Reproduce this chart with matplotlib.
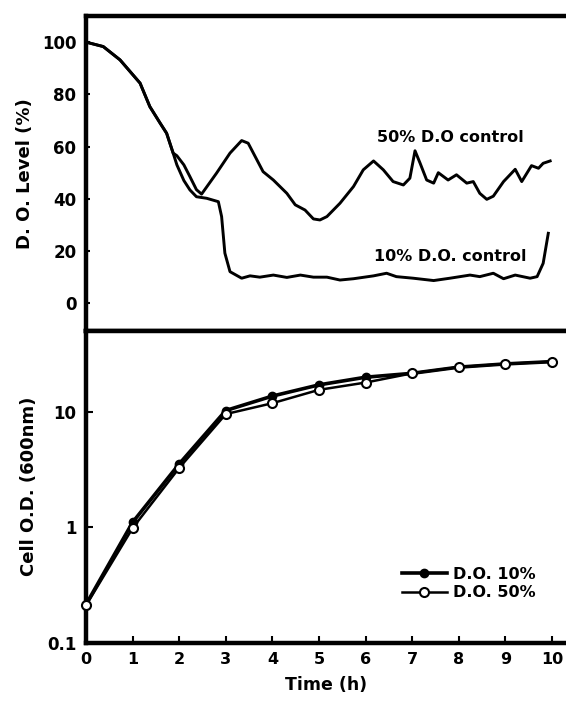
import matplotlib
matplotlib.use("Agg")
import matplotlib.pyplot as plt
from matplotlib.ticker import FixedLocator, FixedFormatter, NullLocator, NullFormatter

plt.rcParams['font.family'] = ['DejaVu Sans']
plt.rcParams['font.weight'] = 'bold'

# ---- Top panel: dissolved oxygen traces ----
t_common = [0.0, 0.37, 0.73, 1.16, 1.37, 1.59, 1.73, 1.87]
do_common = [100.0, 98.3, 93.2, 84.3, 75.3, 69.0, 65.1, 57.5]

t50 = t_common + [1.95, 2.10, 2.23, 2.37, 2.48, 2.80, 3.09, 3.34, 3.48, 3.80, 4.02, 4.31,
                  4.49, 4.70, 4.88, 5.02, 5.17, 5.45, 5.74, 5.95, 6.17, 6.38, 6.59,
                  6.81, 6.95, 7.06, 7.17, 7.31, 7.46, 7.56, 7.77, 7.95, 8.17, 8.31,
                  8.45, 8.60, 8.74, 8.96, 9.21, 9.35, 9.56, 9.71, 9.81, 9.96]
do50 = do_common + [56.5, 53.0, 48.5, 43.5, 41.8, 49.8, 57.5, 62.3, 61.3, 50.4, 47.2, 42.1,
                    37.7, 35.7, 32.3, 31.9, 33.2, 38.3, 44.7, 51.1, 54.5, 51.1, 46.6,
                    45.3, 47.9, 58.4, 53.6, 47.2, 46.0, 50.0, 47.2, 49.2, 46.0, 46.6,
                    42.1, 39.8, 41.0, 46.6, 51.3, 46.6, 52.7, 51.7, 53.6, 54.5]

t10 = t_common + [1.95, 2.10, 2.23, 2.37, 2.59, 2.84, 2.91, 2.98, 3.09, 3.34, 3.52, 3.73,
                  4.02, 4.31, 4.60, 4.88, 5.17, 5.45, 5.74, 6.17, 6.45, 6.66, 7.02,
                  7.46, 7.81, 8.24, 8.45, 8.74, 8.96, 9.21, 9.53, 9.68, 9.81, 9.92]
do10 = do_common + [53.0, 47.0, 43.4, 40.8, 40.2, 38.9, 33.2, 19.2, 12.1, 9.6, 10.5, 10.0,
                    10.8, 9.9, 10.8, 10.0, 10.0, 8.9, 9.4, 10.5, 11.5, 10.2, 9.6,
                    8.7, 9.6, 10.8, 10.2, 11.5, 9.4, 10.8, 9.6, 10.2, 15.3, 26.8]

top_yticks = [0, 20, 40, 60, 80, 100]

# ---- Bottom panel: cell growth ----
hours = [0, 1, 2, 3, 4, 5, 6, 7, 8, 9, 10]
od_do10 = [0.214, 1.10, 3.52, 10.2, 13.6, 17.0, 19.8, 21.4, 24.2, 25.8, 27.0]
od_do50 = [0.21, 0.98, 3.25, 9.5, 11.8, 15.4, 17.8, 21.4, 24.2, 25.8, 27.0]
bottom_yticks = [0.1, 1, 10]
bottom_yticklabels = ['0.1', '1', '10']
xticks = list(range(0, 11))

W, H = 566, 704
fig = plt.figure(figsize=(W / 100, H / 100), dpi=100)

left_px, right_px = 86, 566
top_px, mid_px, bot_px = 16, 330.7, 642.7
ax1 = fig.add_axes([left_px / W, 1 - mid_px / H, (right_px - left_px) / W, (mid_px - top_px) / H])
ax2 = fig.add_axes([left_px / W, 1 - bot_px / H, (right_px - left_px) / W, (bot_px - mid_px) / H])

spine_lw = 3.2
line_lw = 2.1
tick_fs = 12

for ax in (ax1, ax2):
    for s in ('left', 'top', 'bottom'):
        ax.spines[s].set_linewidth(spine_lw)
    ax.spines['right'].set_visible(False)
    ax.set_xlim(0, 10.3)

# top panel
ax1.plot(t50, do50, color='black', lw=line_lw, solid_joinstyle='round')
ax1.plot(t10, do10, color='black', lw=line_lw, solid_joinstyle='round')
ax1.set_ylim(-10.5, 110)
ax1.yaxis.set_major_locator(FixedLocator(top_yticks))
ax1.xaxis.set_major_locator(NullLocator())
ax1.tick_params(axis='y', direction='in', length=3, width=1.5, pad=7, labelsize=tick_fs, right=False)
ax1.set_ylabel('D. O. Level (%)', fontsize=13, fontweight='bold')
ax1.yaxis.set_label_coords((34 - left_px) / (right_px - left_px), 0.5)
ax1.text(7.81, 63.3, '50% D.O control', ha='center', va='center', fontsize=11.5, fontweight='bold')
ax1.text(7.82, 17.8, '10% D.O. control', ha='center', va='center', fontsize=11.5, fontweight='bold')

# bottom panel
ax2.set_yscale('log')
ax2.plot(hours, od_do10, color='black', lw=2.6, marker='o', ms=6, mfc='black', mec='black',
         label='D.O. 10%', zorder=3)
ax2.plot(hours, od_do50, color='black', lw=1.8, marker='o', ms=6.5, mfc='white', mec='black',
         mew=1.5, label='D.O. 50%', zorder=4, clip_on=False)
ax2.set_ylim(0.1, 50)
ax2.yaxis.set_major_locator(FixedLocator(bottom_yticks))
ax2.yaxis.set_major_formatter(FixedFormatter(bottom_yticklabels))
ax2.yaxis.set_minor_locator(NullLocator())
ax2.yaxis.set_minor_formatter(NullFormatter())
ax2.xaxis.set_major_locator(FixedLocator(xticks))
ax2.tick_params(axis='both', direction='in', length=5, width=1.5, pad=7, labelsize=tick_fs,
                top=False, right=False)
ax2.tick_params(axis='x', labelsize=11.5)
ax2.set_ylabel('Cell O.D. (600nm)', fontsize=13, fontweight='bold')
ax2.yaxis.set_label_coords((38 - left_px) / (right_px - left_px), 0.5)
ax2.set_xlabel('Time (h)', fontsize=12.5, fontweight='bold', labelpad=6)

leg = ax2.legend(loc='upper left', bbox_to_anchor=(402 / W, 1 - 567 / H),
                 bbox_transform=fig.transFigure, frameon=False, fontsize=11.5,
                 handlelength=2.8, handletextpad=0.4, labelspacing=0.2,
                 borderpad=0, borderaxespad=0)
for txt in leg.get_texts():
    txt.set_fontweight('bold')

fig.savefig('out.png', dpi=100)
